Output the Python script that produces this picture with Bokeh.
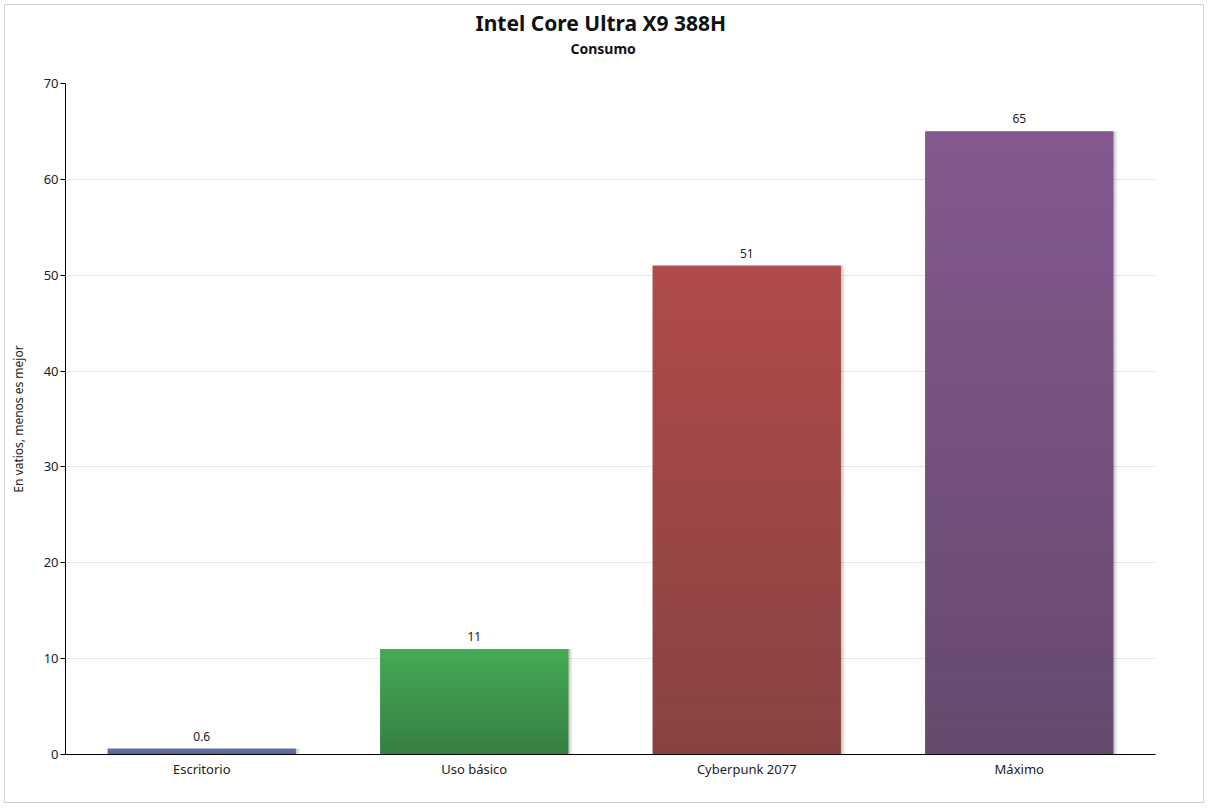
from bokeh.plotting import figure
from bokeh.models import ColumnDataSource, Title, FactorRange
from bokeh.transform import dodge
from bokeh.core.properties import value
from bokeh.embed import file_html
from bokeh.resources import INLINE

# data
categories = ["Escritorio", "Uso básico", "Cyberpunk 2077", "Máximo"]
watts = [0.6, 11, 51, 65]
top_colors = ["#6474a8", "#45ad55", "#b14b4b", "#855990"]
bottom_colors = ["#53628f", "#357d41", "#884242", "#654a6d"]

FONT = "Noto Sans"
N_SLICES = 40


def hex2rgb(h):
    h = h.lstrip("#")
    return [int(h[i:i + 2], 16) for i in (0, 2, 4)]


def mix(c1, c2, t):
    a, b = hex2rgb(c1), hex2rgb(c2)
    return "#%02x%02x%02x" % tuple(round(a[k] + (b[k] - a[k]) * t) for k in range(3))


# gradient slices for each bar (lighter at the top)
gx, gbot, gtop, gcol = [], [], [], []
for cat, v, ct, cb in zip(categories, watts, top_colors, bottom_colors):
    for i in range(N_SLICES):
        gx.append(cat)
        gbot.append(v * i / N_SLICES)
        gtop.append(v * (i + 1) / N_SLICES)
        gcol.append(mix(cb, ct, (i + 0.5) / N_SLICES))
grad = ColumnDataSource(dict(x=gx, bottom=gbot, top=gtop, color=gcol))

src = ColumnDataSource(dict(x=categories, top=watts,
                            base=[mix(b, t, 0.5) for b, t in zip(bottom_colors, top_colors)],
                            label=[f"{v:g}" for v in watts]))

p = figure(x_range=FactorRange(*categories), y_range=(0, 70),
           width=1200, height=799, output_backend="svg", toolbar_location=None,
           min_border_left=60, min_border_right=50, min_border_bottom=50,
           min_border_top=78)
p.styles = {"border": "1px solid #d0d0d0", "margin-left": "4px", "margin-top": "4px"}
p.x_range.range_padding = 0
p.background_fill_color = "white"
p.border_fill_color = "white"
p.outline_line_color = None

# title stack: panels are added from the plot outwards
p.add_layout(Title(text=" ", text_font_size="1px", standoff=23), "above")  # gap
p.add_layout(Title(text="Consumo", align="left", offset=505, standoff=0,
                   text_font=FONT, text_font_size="14px", text_font_style="bold",
                   text_color="#111111"), "above")
p.add_layout(Title(text="Intel Core Ultra X9 388H", align="left", offset=410,
                   standoff=0, text_font=FONT, text_font_size="21px",
                   text_font_style="bold", text_color="#111111"), "above")

# soft shadow to the right of the bars
for d, a in [(0.016, 0.05), (0.011, 0.07), (0.006, 0.09)]:
    p.vbar(x=dodge("x", d, range=p.x_range), top="top", bottom=0, width=0.69,
           source=src, fill_color="#000000", fill_alpha=a, line_color=None)

p.vbar(x="x", top="top", bottom=0, width=0.69, source=src,
       fill_color="base", line_color=None)
p.vbar(x="x", top="top", bottom="bottom", width=0.69, source=grad,
       fill_color="color", line_color=None)

p.text(x="x", y="top", text="label", source=src, text_align="center",
       text_baseline="bottom", y_offset=-8, text_font=value(FONT),
       text_font_size="12px", text_color="#222222")

# axes
p.xgrid.grid_line_color = None
p.ygrid.grid_line_color = "#e6e6e6"
p.yaxis.ticker = [0, 10, 20, 30, 40, 50, 60, 70]
p.yaxis.axis_label = "En vatios, menos es mejor"
p.yaxis.axis_label_text_font = FONT
p.yaxis.axis_label_text_font_size = "12px"
p.yaxis.axis_label_text_font_style = "normal"
p.yaxis.axis_label_text_color = "#222222"
p.yaxis.axis_label_standoff = 14
p.yaxis.major_tick_in = 0
p.yaxis.major_tick_out = 5
p.yaxis.minor_tick_line_color = None
p.xaxis.major_tick_line_color = None
p.xaxis.major_tick_in = 0
p.xaxis.major_tick_out = 0
p.xaxis.minor_tick_line_color = None
for ax in (p.xaxis, p.yaxis):
    ax.axis_line_color = "black"
    ax.major_label_text_font = FONT
    ax.major_label_text_font_size = "13px"
    ax.major_label_text_color = "#222222"
p.xaxis.major_label_standoff = 5
p.yaxis.major_label_standoff = 2

open("out.html", "w").write(file_html(p, INLINE))
